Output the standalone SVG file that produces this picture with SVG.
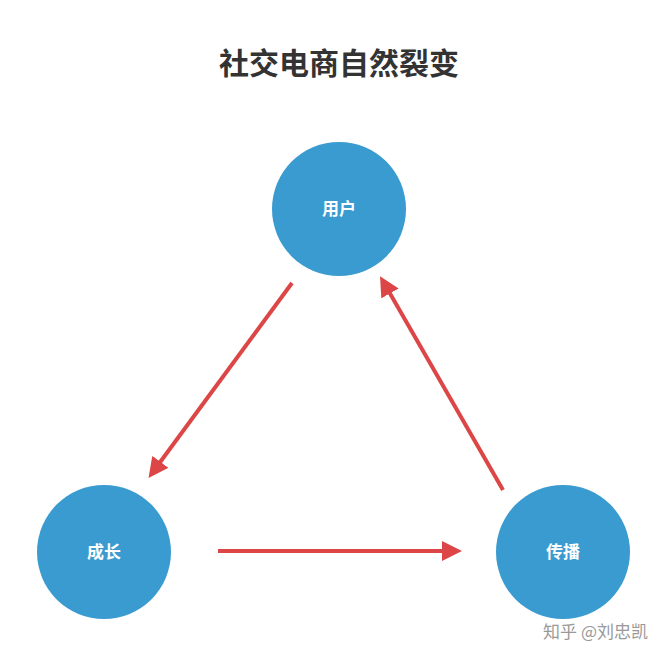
<svg xmlns="http://www.w3.org/2000/svg" width="666" height="661" viewBox="0 0 666 661">
<style>
.n{fill:#3a9bd0}
.t{font-family:"Noto Sans CJK SC",sans-serif;font-weight:bold;font-size:17px;fill:#fff;text-anchor:middle}
.c{stroke:#dc4646;stroke-width:4;fill:none;marker-end:url(#a)}
</style>
<defs><marker id="a" markerWidth="5" markerHeight="5" refX="1" refY="2.5" orient="auto"><path d="M0,0L5,2.5L0,5z" fill="#dc4646"/></marker></defs>
<rect width="666" height="661" fill="#fff"/>
<text x="339" y="74" font-family="Noto Sans CJK SC,sans-serif" font-weight="bold" font-size="30" fill="#333" text-anchor="middle">社交电商自然裂变</text>
<g id="user"><circle class="n" cx="339" cy="209" r="67"/><text class="t" x="339" y="215">用户</text></g>
<g id="grow"><circle class="n" cx="104" cy="552" r="67"/><text class="t" x="104" y="558">成长</text></g>
<g id="spread"><circle class="n" cx="563" cy="552" r="67"/><text class="t" x="563" y="558">传播</text></g>
<g id="connectors">
<path class="c" d="M292,283L158,465"/>
<path class="c" d="M218,551L446,551"/>
<path class="c" d="M503,490L388,290"/>
</g>
<text x="648" y="638" font-family="Noto Sans CJK SC,sans-serif" font-size="17" fill="#999" text-anchor="end">知乎 @刘忠凯</text>
</svg>
